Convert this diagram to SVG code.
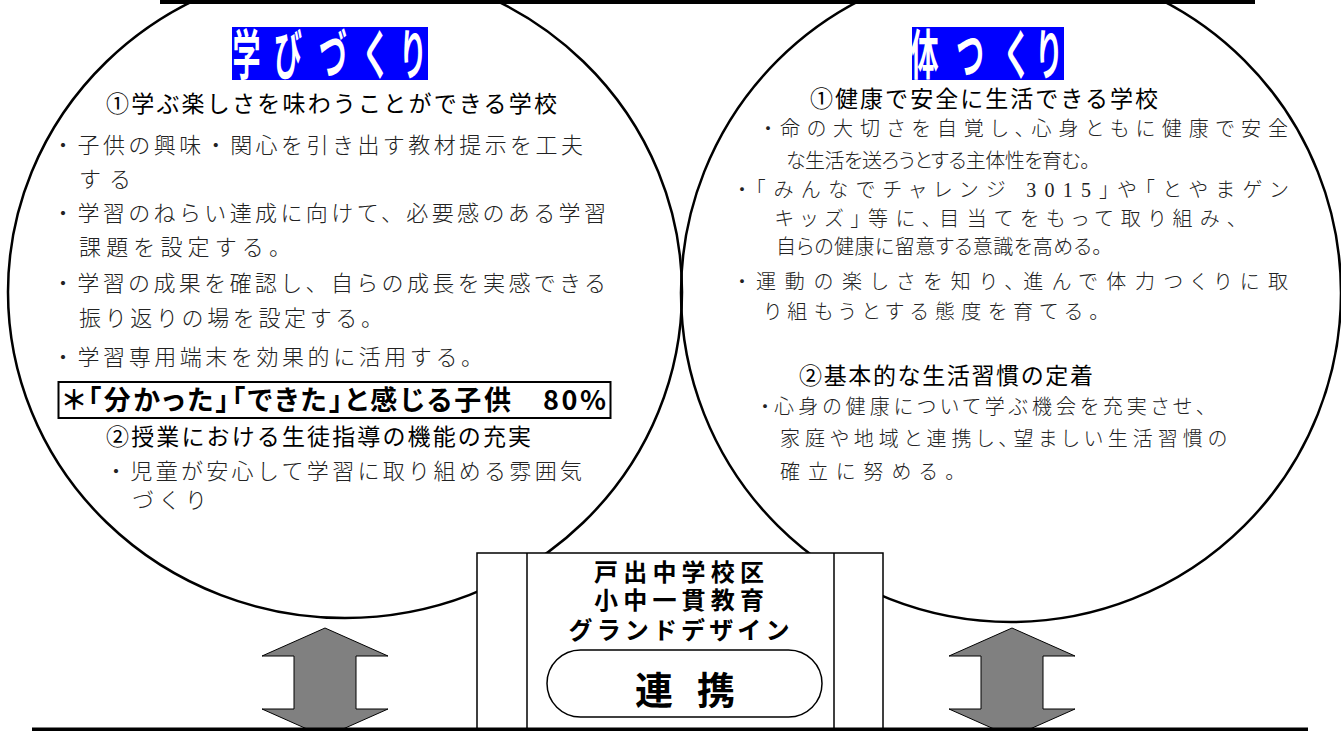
<svg xmlns="http://www.w3.org/2000/svg" width="1341" height="731" viewBox="0 0 1341 731">
<defs>
<style>
.bg{fill:#fff}
.circ{fill:none;stroke:#000;stroke-width:2.5}
.frame{fill:#000}
.ttl{fill:#0000ff}
.ttxt{font-family:"Noto Sans CJK JP","Noto Sans CJK SC",sans-serif;font-weight:bold;font-size:54px;fill:#fff;text-anchor:middle}
.hd{font-family:"Noto Sans CJK JP","Noto Sans CJK SC",sans-serif;font-size:23px;fill:#000}
.bl{font-family:"Noto Sans CJK JP","Noto Sans CJK SC",sans-serif;font-size:22px;font-weight:300;fill:#222}
.br{font-family:"Noto Sans CJK JP","Noto Sans CJK SC",sans-serif;font-size:20px;font-weight:300;fill:#222;font-feature-settings:"palt"}
.key{font-family:"Noto Sans CJK JP","Noto Sans CJK SC",sans-serif;font-size:27px;font-weight:bold;fill:#000;font-feature-settings:"palt"}
.keybox{fill:#fff;stroke:#000;stroke-width:2}
.box{fill:#fff;stroke:#000;stroke-width:1.5}
.ctr{font-family:"Noto Sans CJK JP","Noto Sans CJK SC",sans-serif;font-size:24px;font-weight:bold;fill:#000;text-anchor:middle}
.big{font-family:"Noto Sans CJK JP","Noto Sans CJK SC",sans-serif;font-size:38px;font-weight:bold;fill:#000;text-anchor:middle}
.arrow{fill:#808080;stroke:#000;stroke-width:1}
</style>
<path id="dblarrow" d="M0,0 L63,28 L31,28 L31,81 L63,81 L0,109 L-63,81 L-31,81 L-31,28 L-63,28 Z"/>
</defs>
<rect class="bg" x="0" y="0" width="1341" height="731"/>

<g id="node-manabi">
<ellipse class="circ" cx="345" cy="292" rx="337" ry="326"/>
<rect class="ttl" x="232" y="27" width="196" height="53"/>
<text class="ttxt" transform="scale(0.52,1)" x="474 553.8 640.4 723.1 794.2" y="75">学びづくり</text>
<text class="hd" x="106" y="112" textLength="451">①学ぶ楽しさを味わうことができる学校</text>
<text class="bl" x="52" y="153" textLength="531">・子供の興味・関心を引き出す教材提示を工夫</text>
<text class="bl" x="79" y="187" textLength="52">する</text>
<text class="bl" x="52" y="221" textLength="554">・学習のねらい達成に向けて、必要感のある学習</text>
<text class="bl" x="79" y="255" textLength="212">課題を設定する。</text>
<text class="bl" x="52" y="291" textLength="554">・学習の成果を確認し、自らの成長を実感できる</text>
<text class="bl" x="79" y="326" textLength="304">振り返りの場を設定する。</text>
<text class="bl" x="52" y="365" textLength="431">・学習専用端末を効果的に活用する。</text>
<rect class="keybox" x="58.5" y="382" width="552" height="36"/>
<text class="key" x="63" y="410" textLength="543">＊「分かった」「できた」と感じる子供　80%</text>
<text class="hd" x="106" y="444.5" textLength="425">②授業における生徒指導の機能の充実</text>
<text class="bl" x="105" y="479" textLength="477">・児童が安心して学習に取り組める雰囲気</text>
<text class="bl" x="132" y="508" textLength="75">づくり</text>
</g>

<g id="node-karada">
<ellipse class="circ" cx="1011" cy="293" rx="330" ry="329"/>
<rect class="ttl" x="912" y="27" width="152" height="53"/>
<text class="ttxt" transform="scale(0.52,1)" x="1777.9 1865.4 1955.8 2017.3" y="75">体つくり</text>
<text class="hd" x="810" y="106.5" textLength="348">①健康で安全に生活できる学校</text>
<text class="br" x="763" y="136" textLength="525">・命の大切さを自覚し、心身ともに健康で安全</text>
<text class="br" x="786" y="168" textLength="304">な生活を送ろうとする主体性を育む。</text>
<text class="br" x="737" y="196.5" textLength="551">・「みんなでチャレンジ <tspan font-family="Liberation Serif">3015</tspan>」や「とやまゲン</text>
<text class="br" x="775" y="225.5" textLength="462">キッズ」等に、目当てをもって取り組み、</text>
<text class="br" x="776" y="253.5" textLength="326">自らの健康に留意する意識を高める。</text>
<text class="br" x="737" y="288.5" textLength="551">・運動の楽しさを知り、進んで体力つくりに取</text>
<text class="br" x="764" y="319" textLength="335">り組もうとする態度を育てる。</text>
<text class="hd" x="799" y="384" textLength="294">②基本的な生活習慣の定着</text>
<text class="br" x="760" y="413.5" textLength="446">・心身の健康について学ぶ機会を充実させ、</text>
<text class="br" x="780" y="445.5" textLength="447">家庭や地域と連携し、望ましい生活習慣の</text>
<text class="br" x="780" y="478.5" textLength="175">確立に努める。</text>
</g>

<g id="node-center">
<rect class="box" x="477" y="553" width="406" height="182"/>
<line x1="527" y1="553" x2="527" y2="731" stroke="#000" stroke-width="1.5"/>
<line x1="834" y1="553" x2="834" y2="731" stroke="#000" stroke-width="1.5"/>
<text class="ctr"><tspan x="679" y="581" textLength="170">戸出中学校区</tspan><tspan x="679" y="609" textLength="170">小中一貫教育</tspan><tspan x="679" y="639" textLength="221">グランドデザイン</tspan></text>
<rect class="box" x="547" y="650" width="275" height="67" rx="33.5" ry="33.5"/>
<text class="big" x="654 716" y="704">連携</text>
</g>

<g id="connectors">
<use href="#dblarrow" class="arrow" transform="translate(325,628)"/>
<use href="#dblarrow" class="arrow" transform="translate(1012,628)"/>
</g>

<g id="frame">
<rect class="frame" x="160" y="0" width="1095" height="4"/>
<rect class="frame" x="32" y="727.5" width="1276" height="4"/>
</g>
</svg>
